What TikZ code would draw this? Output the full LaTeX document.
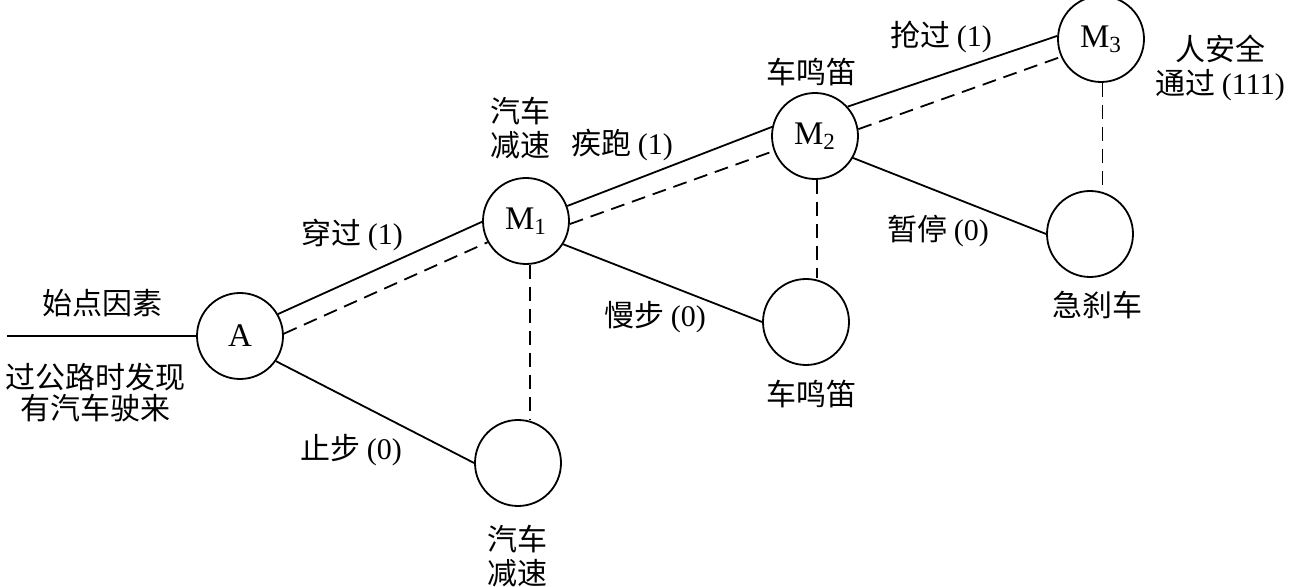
\documentclass[tikz,border=0pt]{standalone}
\usepackage{fontspec}
\setmainfont{Liberation Serif}
\newfontfamily\cjk{Noto Sans CJK SC}
\newcommand{\wt}[1]{\textrm{(#1)}}

\begin{document}
\begin{tikzpicture}[
  x=0.5pt, y=-0.5pt, line width=0.9pt,
  font=\fontsize{15}{17}\cjk,
  st/.style={circle, draw, minimum size=43pt, inner sep=0pt, font=\fontsize{16.5}{18}\rmfamily},
  lb/.style={inner sep=0pt, align=center},
  alt/.style={dash pattern=on 7pt off 4pt}]
\useasboundingbox (0,0) rectangle (1291,587);
% states
\node[st] (A) at (240,336) {A};
\node[st] (M1) at (526,221) {M\textsubscript{1}};
\node[st] (M2) at (815,136) {M\textsubscript{2}};
\node[st] (M3) at (1101,39) {M\textsubscript{3}};
\node[st] (lowA) at (518,463) {};
\node[st] (low2) at (806,322) {};
\node[st] (low3) at (1090,234) {};
\coordinate (in) at (7,336);
% labels
\node[lb] (t0) at (102,303) {始点因素};
\node[lb] (t1) at (95,393) {过公路时发现\\[-1.5pt]有汽车驶来};
\node[lb] (e1) at (352,235) {穿过 \wt{1}};
\node[lb] (e2) at (351,450) {止步 \wt{0}};
\node[lb] (m1) at (520,128) {汽车\\减速};
\node[lb] (e3) at (622,145) {疾跑 \wt{1}};
\node[lb] (e4) at (655,317) {慢步 \wt{0}};
\node[lb] (m2) at (811,72) {车鸣笛};
\node[lb] (l2) at (811,394) {车鸣笛};
\node[lb] (e5) at (941,37) {抢过 \wt{1}};
\node[lb] (m3) at (1220,68) {人安全\\通过 \wt{111}};
\node[lb] (e6) at (938,231) {暂停 \wt{0}};
\node[lb] (l3) at (1097,305) {急刹车};
\node[lb] (lA) at (517,556) {汽车\\减速};
% connectors
\draw (in) -- (A);
\foreach \a/\b in {A.30/M1.181, M1.20/M2.168, M2.42/M3.176,
  A.-35/lowA.west, M1.-32/low2.west, M2.-30/low3.west}
  \draw (\a) -- (\b);
\foreach \a/\b in {A.3/M1.209, M1.-4/M2.200, M2.9.5/M3.204}
  \draw[alt] (\a) -- (\b);
\foreach \a/\b in {M1.-85/lowA, M2.-87/low2, M3.-88/low3}
  \draw[alt] (\a) -- (\a |- \b.north);
\end{tikzpicture}
\end{document}
